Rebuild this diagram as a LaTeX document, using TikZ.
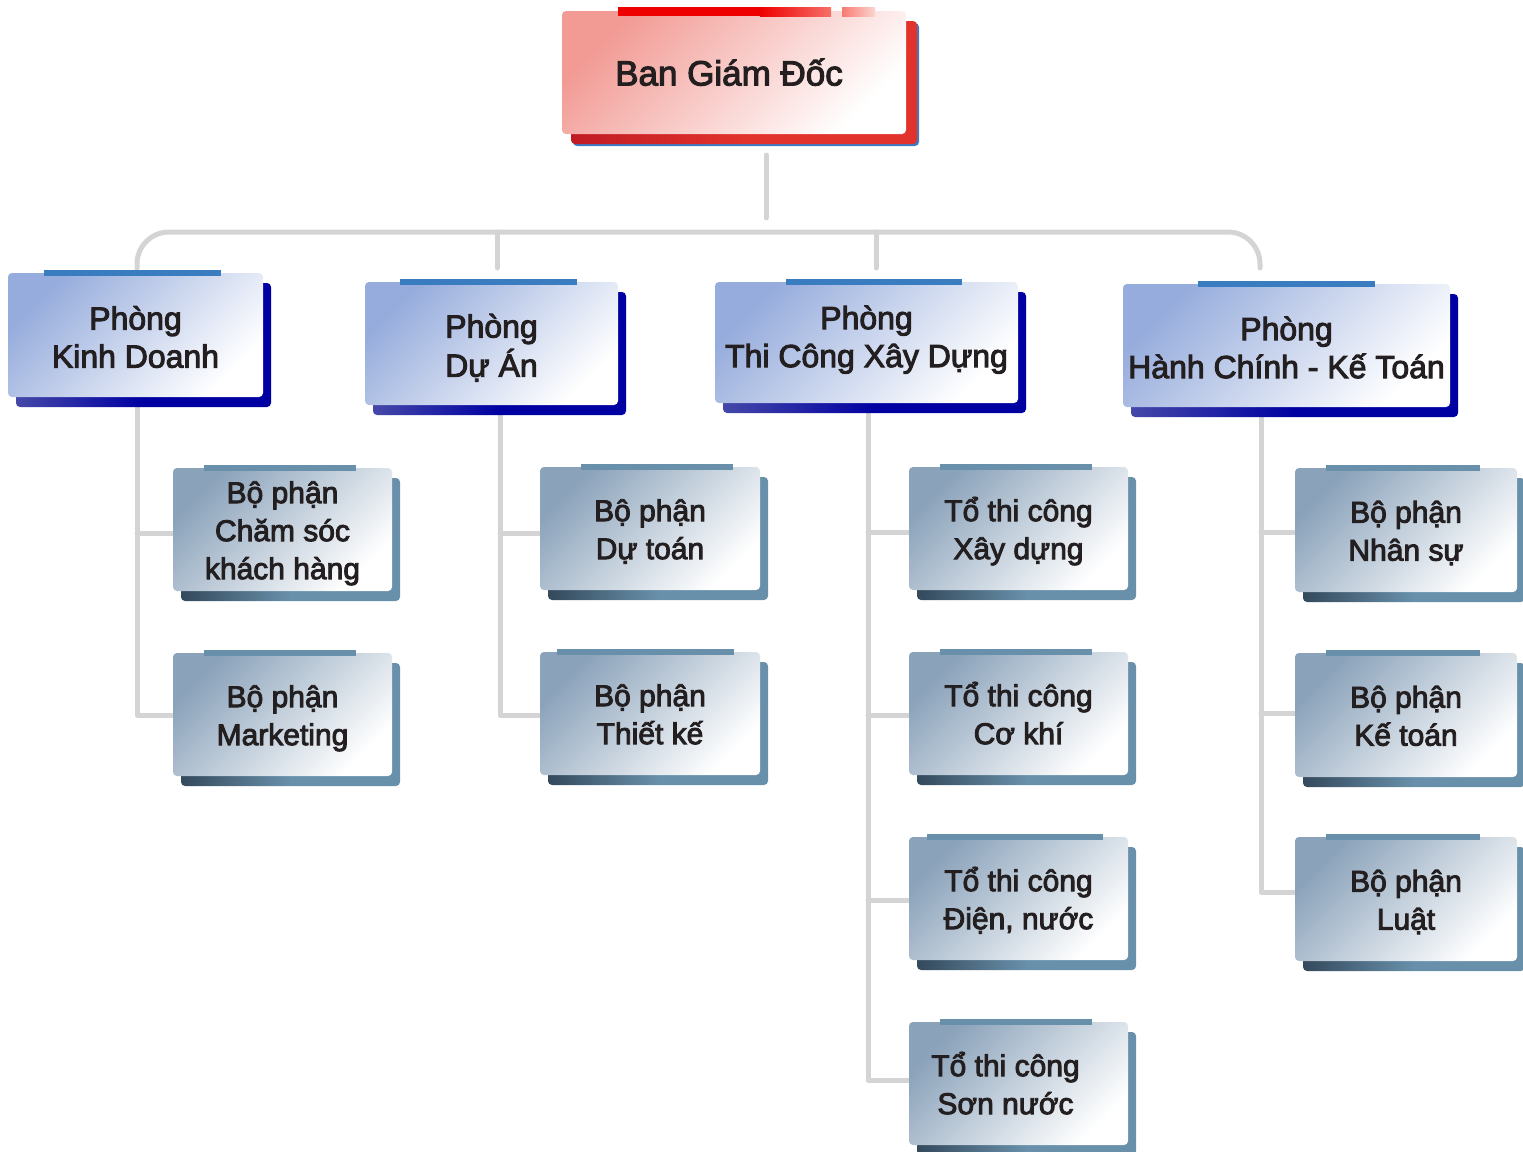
\documentclass[tikz,border=0pt]{standalone}
\usepackage{fontspec}
\setmainfont{Liberation Sans}[FakeBold=3]
\definecolor{txt}{HTML}{231F20}
\definecolor{conn}{HTML}{D4D4D4}
\definecolor{topA}{HTML}{F29A94}
\definecolor{topSh}{HTML}{E2322C}
\definecolor{topShD}{HTML}{C01C24}
\definecolor{blueEdge}{HTML}{3C7CC4}
\definecolor{depA}{HTML}{96ACDC}
\definecolor{depSh}{HTML}{0000A2}
\definecolor{depShD}{HTML}{4548A8}
\definecolor{depBar}{HTML}{3A7CC0}
\definecolor{subA}{HTML}{8AA2BA}
\definecolor{subSh}{HTML}{6890AA}
\definecolor{subShD}{HTML}{34495C}
\definecolor{redA}{HTML}{EE0000}
\definecolor{redB}{HTML}{F77068}
\definecolor{redC}{HTML}{F87A72}
\definecolor{redD}{HTML}{FBD5D0}
\newlength\txtdown
\tikzset{
  cline/.style={draw=conn, line width=5pt, line cap=round, line join=round},
  basebox/.style={inner sep=0pt, outer sep=0pt, rounded corners=4pt, align=center, text=txt},
  topmain/.style={basebox, top color=topA, bottom color=white, shading angle=45,
                  font=\fontsize{35}{42}\selectfont},
  topshadow/.style={rounded corners=4pt, left color=topShD, right color=topSh, middle color=topSh},
  depmain/.style={basebox, top color=depA, bottom color=white, shading angle=45,
                  font=\fontsize{32}{38}\selectfont\setlength\txtdown{12pt}},
  depshadow/.style={rounded corners=4pt, left color=depShD, right color=depSh, middle color=depSh},
  depbar/.style={fill=depBar},
  tcmain/.style={depmain, font=\fontsize{32}{38}\selectfont\setlength\txtdown{-4pt}},
  tcshadow/.style={depshadow},
  tcbar/.style={depbar},
  submain/.style={basebox, top color=subA, bottom color=white, shading angle=45,
                  font=\fontsize{30}{38}\selectfont\setlength\txtdown{8pt}},
  subshadow/.style={rounded corners=4pt, left color=subShD, right color=subSh, middle color=subSh},
  subbar/.style={fill=subSh},
}
\newcommand\lines[1]{\raisebox{0pt}[\dimexpr\height+\txtdown\relax][\depth]{\begin{tabular}{@{}c@{}}#1\end{tabular}}}
% #1 name, #2 x1, #3 y1, #4 x2, #5 y2, #6 bar x1, #7 bar x2, #8 kind, #9 text
\newcommand\obox[9]{%
  \path[#8shadow] (#2+8,#3+10) rectangle (#4+8,#5+10);
  \node[#8main, minimum width={#4-#2}, minimum height={#5-#3}] (#1) at ({(#2+#4)/2},{(#3+#5)/2}) {\lines{#9}};
  \fill[#8bar] (#6,#3-3) rectangle (#7,#3+3);
}
\begin{document}
\begin{tikzpicture}[x=1pt,y=-1pt]
\useasboundingbox (0,0) rectangle (1523,1151);

% ---------- connectors ----------
\coordinate (stubA) at (766,155);
\coordinate (stubB) at (766,218);
\draw[cline] (stubA) -- (stubB);
\coordinate (busL) at (137,268);
\coordinate (busR) at (1260,268);
\draw[cline, rounded corners=32pt] (busL) -- (137,232) -- (1260,232) -- (busR);
\coordinate (dropB1) at (497,232); \coordinate (dropB2) at (497,268);
\coordinate (dropC1) at (876,232); \coordinate (dropC2) at (876,268);
\draw[cline] (dropB1) -- (dropB2);
\draw[cline] (dropC1) -- (dropC2);

% column 1
\coordinate (c1t) at (137,407);
\draw[cline] (c1t) -- (137,715) -- (173,715);
\draw[cline] (137,533) -- (173,533);
% column 2
\coordinate (c2t) at (500,415);
\draw[cline] (c2t) -- (500,715) -- (540,715);
\draw[cline] (500,533) -- (540,533);
% column 3
\coordinate (c3t) at (868,413);
\draw[cline] (c3t) -- (868,1080) -- (909,1080);
\draw[cline] (868,532) -- (909,532);
\draw[cline] (868,715) -- (909,715);
\draw[cline] (868,900) -- (909,900);
% column 4
\coordinate (c4t) at (1261,417);
\draw[cline] (c4t) -- (1261,892) -- (1295,892);
\draw[cline] (1261,532) -- (1295,532);
\draw[cline] (1261,713) -- (1295,713);

% ---------- top box ----------
\fill[blueEdge, rounded corners=4pt] (573,23) rectangle (919,146);
\path[topshadow] (571,21) rectangle (917,144);
\node[topmain, minimum width=344pt, minimum height=123pt] (bgd) at (734,72.5) {\hspace*{-10pt}\raisebox{1pt}{Ban Giám Đốc}};
\fill[redA] (618,7) rectangle (760,16);
\shade[left color=redA, right color=redB] (760,7) rectangle (831,16);
\shade[left color=redC, right color=redD] (842,7) rectangle (875,16);

% ---------- departments ----------
\obox{kd}{8}{273}{263}{397}{44}{221}{dep}{Phòng\\Kinh Doanh}
\obox{da}{365}{282}{618}{405}{400}{577}{dep}{Phòng\\Dự Án}
\obox{tc}{715}{282}{1018}{403}{786}{962}{tc}{Phòng\\Thi Công Xây Dựng}
\obox{hc}{1123}{284}{1450}{407}{1198}{1375}{dep}{Phòng\\Hành Chính - Kế Toán}

% ---------- sub units ----------
\obox{cs}{173}{468}{392}{591}{204}{356}{sub}{Bộ phận\\Chăm sóc\\khách hàng}
\obox{mk}{173}{653}{392}{776}{204}{356}{sub}{Bộ phận\\Marketing}
\obox{dt}{540}{467}{760}{590}{581}{733}{sub}{Bộ phận\\Dự toán}
\obox{tk}{540}{652}{760}{775}{557}{734}{sub}{Bộ phận\\Thiết kế}
\obox{xd}{909}{467}{1128}{590}{940}{1092}{sub}{Tổ thi công\\Xây dựng}
\obox{ck}{909}{652}{1128}{775}{940}{1092}{sub}{Tổ thi công\\Cơ khí}
\obox{dn}{909}{837}{1128}{960}{927}{1103}{sub}{Tổ thi công\\Điện, nước}
\obox{sn}{909}{1022}{1128}{1145}{940}{1092}{sub}{\hspace*{-26pt}Tổ thi công\\\hspace*{-26pt}Sơn nước}
\obox{ns}{1295}{468}{1517}{592}{1326}{1480}{sub}{Bộ phận\\Nhân sự}
\obox{kt}{1295}{653}{1517}{777}{1326}{1480}{sub}{Bộ phận\\Kế toán}
\obox{lu}{1295}{837}{1517}{961}{1326}{1480}{sub}{Bộ phận\\Luật}
\end{tikzpicture}
\end{document}
